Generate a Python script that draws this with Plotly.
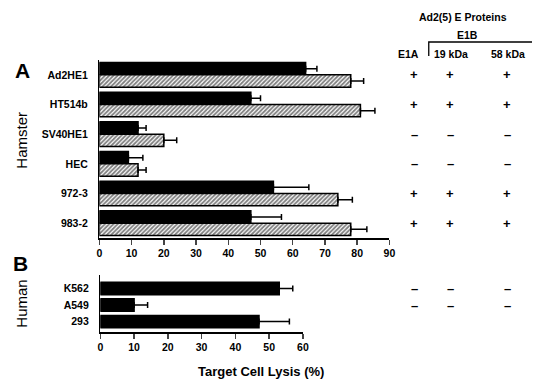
import plotly.graph_objects as go

# ---- data ----
cells_a = ["Ad2HE1", "HT514b", "SV40HE1", "HEC", "972-3", "983-2"]
solid_a = [64, 47, 12, 9, 54, 47]
solid_a_err = [3.5, 3, 2.5, 4.5, 11, 9.5]
hatch_a = [78, 81, 20, 12, 74, 78]
hatch_a_err = [4, 4.5, 4, 2.5, 4.5, 5]

cells_b = ["K562", "A549", "293"]
solid_b = [53, 10, 47]
solid_b_err = [4, 4, 9]

e1a_a = ["+", "+", "–", "–", "+", "+"]
e1b19_a = ["+", "+", "–", "–", "+", "+"]
e1b58_a = ["+", "+", "–", "–", "+", "+"]
e1a_b = ["–", "–", "+"]
e1b19_b = ["–", "–", "+"]
e1b58_b = ["–", "–", "+"]

xticks_a = [0, 10, 20, 30, 40, 50, 60, 70, 80, 90]
xticks_b = [0, 10, 20, 30, 40, 50, 60]

W, H = 538, 380
FONT = "Liberation Sans"

def px(x):
    return x / W

def py(y):
    return 1 - y / H

fig = go.Figure()

err_style = dict(type="data", symmetric=False, color="black", thickness=1.5, width=3)

fig.add_trace(go.Bar(
    y=cells_a, x=solid_a, orientation="h", xaxis="x", yaxis="y",
    marker=dict(color="black", line=dict(color="black", width=1.5)),
    error_x=dict(array=solid_a_err, arrayminus=[0] * len(solid_a), **err_style),
    showlegend=False,
))
fig.add_trace(go.Bar(
    y=cells_a, x=hatch_a, orientation="h", xaxis="x", yaxis="y",
    marker=dict(color="white", line=dict(color="black", width=1.5),
                pattern=dict(shape="/", fgcolor="black", bgcolor="white", size=3, solidity=0.6)),
    error_x=dict(array=hatch_a_err, arrayminus=[0] * len(hatch_a), **err_style),
    showlegend=False,
))
fig.add_trace(go.Bar(
    y=cells_b, x=solid_b, orientation="h", xaxis="x2", yaxis="y2",
    marker=dict(color="black", line=dict(color="black", width=1.5)),
    error_x=dict(array=solid_b_err, arrayminus=[0] * len(solid_b), **err_style),
    showlegend=False, width=0.75,
))

tickfont = dict(family=FONT, size=10.5, color="black", weight="bold")

fig.update_layout(
    width=W, height=H, margin=dict(l=0, r=0, t=0, b=0),
    paper_bgcolor="white", plot_bgcolor="white",
    barmode="group", bargap=0.17, bargroupgap=0,
    xaxis=dict(domain=[px(98), px(393)], range=[0, 90], anchor="y",
               tickvals=xticks_a, ticks="outside", ticklen=5, tickwidth=1.5,
               showline=True, linecolor="black", linewidth=1.5, showgrid=False,
               zeroline=False, tickfont=tickfont, fixedrange=True),
    yaxis=dict(domain=[py(238), py(60)], range=[5.5, -0.5], anchor="x",
               type="category", showline=True, linecolor="black", linewidth=1.5,
               showgrid=False, ticks="", ticklabelstandoff=8, tickfont=tickfont),
    xaxis2=dict(domain=[px(99), px(305)], range=[0, 60], anchor="y2",
                tickvals=xticks_b, ticks="outside", ticklen=5, tickwidth=1.5,
                showline=True, linecolor="black", linewidth=1.5, showgrid=False,
                zeroline=False, tickfont=tickfont),
    yaxis2=dict(domain=[py(332), py(275)], range=[2.63, -0.82], anchor="x2",
                type="category", showline=True, linecolor="black", linewidth=1.5,
                showgrid=False, ticks="", ticklabelstandoff=8, tickfont=tickfont),
)

ann = []
def text(x, y, s, size=11, bold=True, angle=0, xref="paper", yref="paper"):
    ann.append(dict(x=x, y=y, xref=xref, yref=yref, text=s, showarrow=False,
                    textangle=angle, xanchor="center", yanchor="middle",
                    font=dict(family=FONT, size=size, color="black",
                              weight="bold" if bold else "normal")))

text(px(20), py(70), "A", size=21)
text(px(18), py(263), "B", size=21)
text(px(18), py(140), "Hamster", size=15, bold=False, angle=-90)
text(px(18), py(304), "Human", size=15, bold=False, angle=-90)
text(px(262), py(371), "Target Cell Lysis (%)", size=13)

text(px(468), py(17), "Ad2(5) E Proteins", size=10.5)
text(px(472), py(35), "E1B", size=10.5)
text(px(412), py(54), "E1A", size=10.5)
text(px(456), py(54), "19 kDa", size=10.5)
text(px(514), py(54), "58 kDa", size=10.5)

cols = [px(418), px(455), px(513)]
for c, vals in zip(cols, [e1a_a, e1b19_a, e1b58_a]):
    for cell, v in zip(cells_a, vals):
        text(c, cell, v, size=13, xref="paper", yref="y")
for c, vals in zip(cols, [e1a_b, e1b19_b, e1b58_b]):
    for cell, v in zip(cells_b, vals):
        text(c, cell, v, size=13, xref="paper", yref="y2")

fig.update_layout(annotations=ann)

fig.add_shape(type="path", xref="paper", yref="paper",
              path=f"M {px(433)} {py(56)} L {px(433)} {py(42)} L {px(538)} {py(42)}",
              line=dict(color="black", width=1.3))

fig.write_html("out.html", config={"displayModeBar": False, "staticPlot": True},
               post_script="document.body.style.margin='0';document.body.style.overflow='hidden';")
